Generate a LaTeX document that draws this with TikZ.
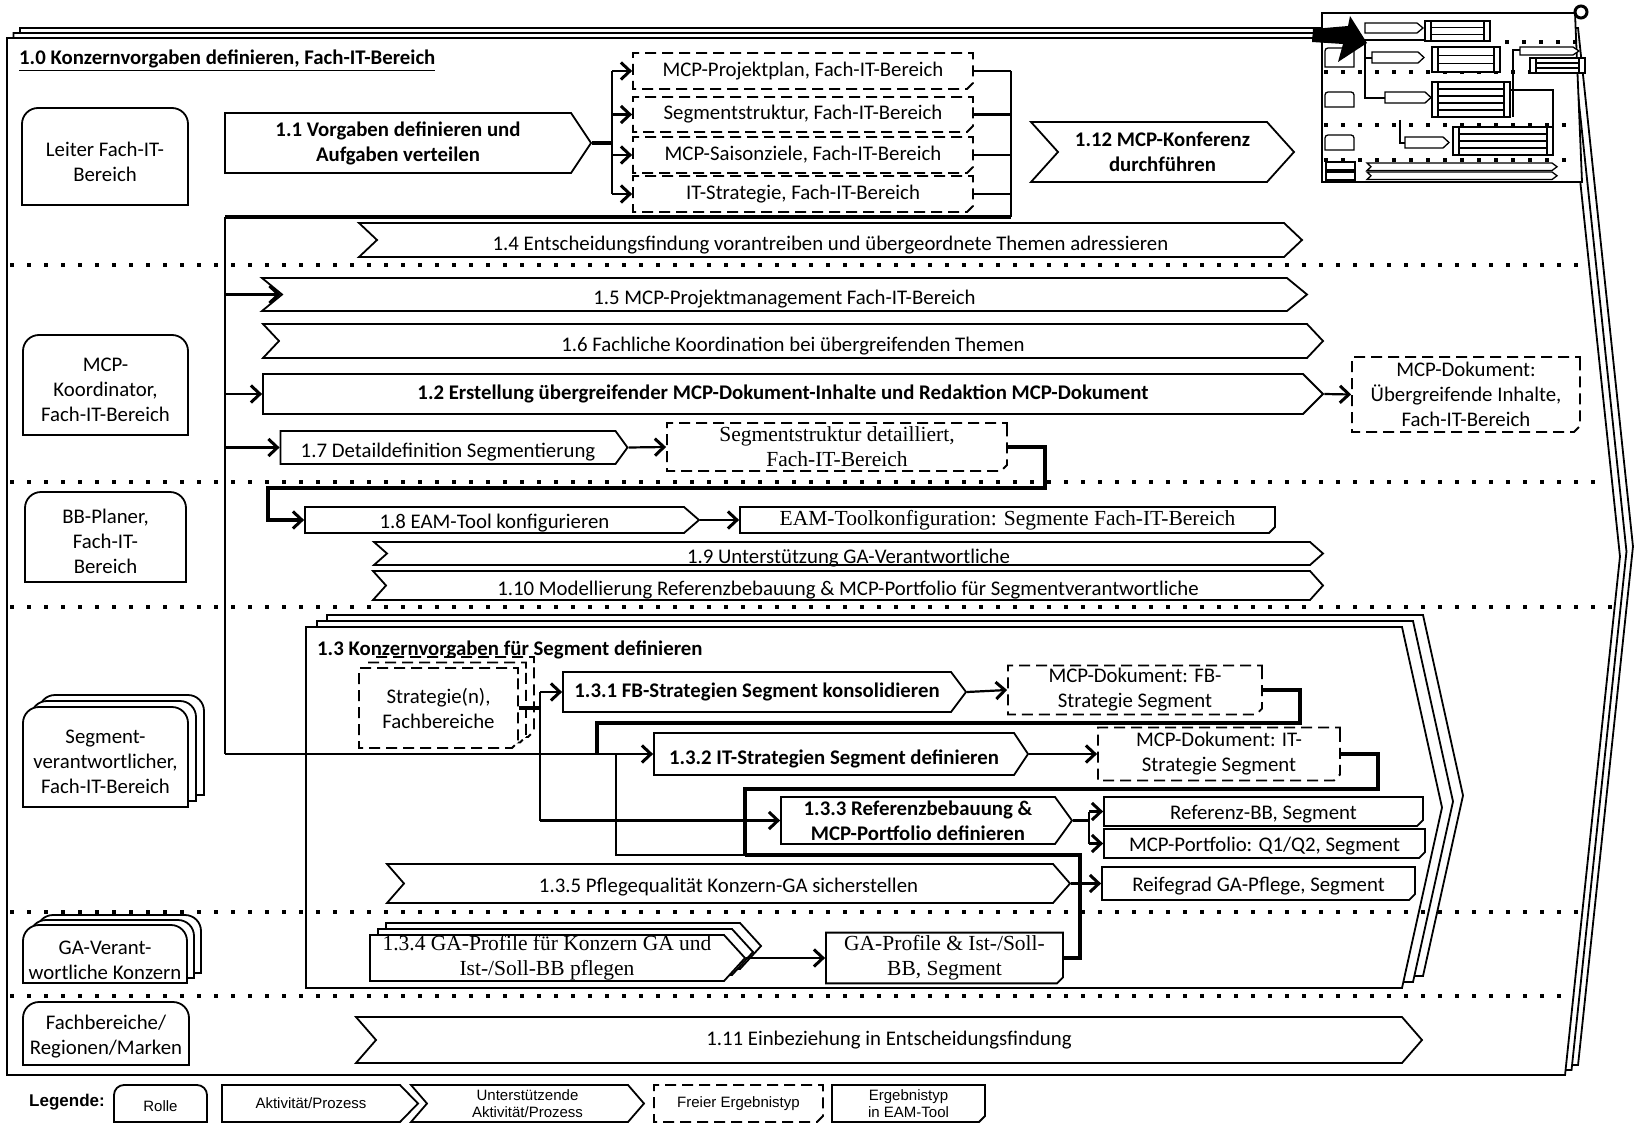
\documentclass[tikz,border=0pt]{standalone}
\usepackage{fontspec}
\setmainfont{Carlito}
\newfontfamily\serifschrift{Liberation Serif}
\newfontfamily\legschrift{Liberation Sans}
\usetikzlibrary{shapes.symbols, shapes.misc, shadows, arrows.meta}

\newcommand{\grund}{\fontsize{20.8}{25}\selectfont}
\newcommand{\serif}{\serifschrift\fontsize{21.5}{25}\selectfont}
\newcommand{\leg}{\legschrift\fontsize{15}{17.5}\selectfont}
% Rolle: oben abgerundet, unten eckig
\newcommand{\rollenform}[5][16pt]{\filldraw[rand] (#2,#5) [rounded corners=#1] -- (#2,#3) -- (#4,#3) [sharp corners] -- (#4,#5) -- cycle;}

\tikzset{
  aktiv/.style={signal, signal from=nowhere, signal to=east, draw, fill=white, line width=1.8pt, inner sep=0pt, align=center},
  stuetz/.style={aktiv, signal from=west},
  frei/.style={chamfered rectangle, chamfered rectangle corners=south east, chamfered rectangle xsep=3pt, chamfered rectangle ysep=3pt, draw, fill=white, line width=1.8pt, dash pattern=on 11pt off 6pt, inner sep=0pt, align=center},
  eam/.style={frei, solid},
  rolle/.style={inner sep=0pt, align=center},
  tiefer/.style={text height=#1, text depth=0pt},
  rand/.style={line width=1.8pt, fill=white},
  linie/.style={line width=2.2pt},
  dick/.style={line width=3.6pt},
  pfeil/.style={linie, -{Straight Barb[length=9pt,width=17pt,line width=3pt]}},
  bahn/.style={line width=4pt, dash pattern=on 4pt off 13pt},
}

\begin{document}
\begin{tikzpicture}[x=1pt, y=-1pt, font=\grund]
\useasboundingbox (0,0) rectangle (1644,1129);

% Rahmen 1.0
\node[aktiv, signal pointer angle=167.9, minimum width=1613pt, minimum height=1037pt,
      copy shadow={shadow xshift=13pt, shadow yshift=10pt, draw, fill=white},
      copy shadow={shadow xshift=6.5pt, shadow yshift=5pt, draw, fill=white}] (r10) at (786,556.5) {};
\node[anchor=base west, inner sep=0pt, font=\grund\bfseries] (t10) at (19,65) {\underline{1.0 Konzernvorgaben definieren, Fach-IT-Bereich}};

% Rahmen 1.3
\node[aktiv, signal pointer angle=155, minimum width=1136pt, minimum height=361pt,
      copy shadow={shadow xshift=21pt, shadow yshift=12pt, draw, fill=white},
      copy shadow={shadow xshift=11pt, shadow yshift=6pt, draw, fill=white}] (r13) at (854,807.5) {};
\node[anchor=base west, inner sep=0pt, font=\grund\bfseries] (t13) at (317,655) {1.3 Konzernvorgaben für Segment definieren};

% Bahnen
\foreach \y/\xe in {265/1585, 482/1607, 607/1614, 912/1583, 996/1574}
  \draw[bahn] (10,\y) -- (\xe,\y);

% Rollen
\rollenform{22}{108}{188}{205}
\node[rolle] (leiter) at (105,161.5) {Leiter Fach-IT-\\Bereich};
\rollenform{23}{335}{188}{435}
\node[rolle] (koord) at (105.5,390) {MCP-\\Koordinator,\\Fach-IT-Bereich};
\rollenform{25}{492}{186}{582}
\node[rolle] (bbpl) at (105.5,541) {BB-Planer,\\Fach-IT-\\Bereich};
\foreach \s in {2,1} {
  \begin{scope}[shift={(8*\s,-6*\s)}] \rollenform{23}{707}{188}{807} \end{scope}
  \begin{scope}[shift={(7*\s,-5*\s)}] \rollenform{23}{925}{187}{983} \end{scope}
}
\rollenform{23}{707}{188}{807}
\node[rolle] (segv) at (105.5,762) {Segment-\\verantwortlicher,\\Fach-IT-Bereich};
\rollenform{23}{925}{187}{983}
\node[rolle] (gav) at (105,960) {GA-Verant-\\wortliche Konzern};
\rollenform{23}{1002}{189}{1065}
\node[rolle] (fbreg) at (106,1037) {Fachbereiche/\\Regionen/Marken};

% Aktivitaeten
\node[aktiv, signal pointer angle=112.6, minimum width=366pt, minimum height=60pt, font=\grund\bfseries] (a11) at (398,143) {1.1 Vorgaben definieren und\\Aufgaben verteilen};
\node[stuetz, signal pointer angle=96, minimum width=263pt, minimum height=60pt, font=\grund\bfseries] (a112) at (1162.5,152) {1.12 MCP-Konferenz\\durchführen};
\node[stuetz, tiefer=20pt, signal pointer angle=86.7, minimum width=943pt, minimum height=34pt] (a14) at (830.5,240) {1.4 Entscheidungsfindung vorantreiben und übergeordnete Themen adressieren};
\node[stuetz, tiefer=20pt, signal pointer angle=78.9, minimum width=1045pt, minimum height=33pt] (a15) at (784.5,294.5) {1.5 MCP-Projektmanagement Fach-IT-Bereich};
\node[stuetz, tiefer=20pt, signal pointer angle=93.5, minimum width=1060pt, minimum height=34pt] (a16) at (793,341) {1.6 Fachliche Koordination bei übergreifenden Themen};
\node[aktiv, signal pointer angle=90, minimum width=1060pt, minimum height=40pt, font=\grund\bfseries] (a12) at (783,394) {1.2 Erstellung übergreifender MCP-Dokument-Inhalte und Redaktion MCP-Dokument};
\node[aktiv, tiefer=20pt, signal pointer angle=108, minimum width=347pt, minimum height=33pt] (a17) at (448,447.5) {1.7 Detaildefinition Segmentierung};
\node[aktiv, tiefer=17pt, signal pointer angle=81.8, minimum width=394pt, minimum height=26pt] (a18) at (494.5,520) {1.8 EAM-Tool konfigurieren};
\node[stuetz, tiefer=19pt, signal pointer angle=83, minimum width=949pt, minimum height=23pt] (a19) at (848.5,553.5) {1.9 Unterstützung GA-Verantwortliche};
\node[stuetz, tiefer=20pt, signal pointer angle=96.2, minimum width=950pt, minimum height=29pt] (a110) at (848,585.5) {1.10 Modellierung Referenzbebauung \& MCP-Portfolio für Segmentverantwortliche};
\node[stuetz, signal pointer angle=97.9, minimum width=1066pt, minimum height=46pt] (a111) at (889,1040) {1.11 Einbeziehung in Entscheidungsfindung};

% Aktivitaeten 1.3
\node[aktiv, signal pointer angle=106.3, minimum width=403pt, minimum height=40pt, font=\grund\bfseries] (a131) at (757,692) {1.3.1 FB-Strategien Segment konsolidieren};
\node[aktiv, tiefer=20pt, signal pointer angle=112.6, minimum width=374pt, minimum height=42pt, font=\grund\bfseries] (a132) at (834,754) {1.3.2 IT-Strategien Segment definieren};
\node[aktiv, signal pointer angle=108.2, minimum width=291pt, minimum height=47pt, font=\grund\bfseries] (a133) at (918,820.5) {1.3.3 Referenzbebauung \&\\MCP-Portfolio definieren};
\node[stuetz, tiefer=17pt, signal pointer angle=97.8, minimum width=683pt, minimum height=39pt] (a135) at (728.5,883.5) {1.3.5 Pflegequalität Konzern-GA sicherstellen};
\node[aktiv, signal pointer angle=95.2, minimum width=375pt, minimum height=46pt, font=\serif,
      copy shadow={shadow xshift=16pt, shadow yshift=12pt, draw, fill=white},
      copy shadow={shadow xshift=8pt, shadow yshift=6pt, draw, fill=white}] (a134) at (547,958) {1.3.4 GA-Profile für Konzern GA und\\Ist-/Soll-BB pflegen};

% Ergebnisse
\node[frei, minimum width=340pt, minimum height=36pt] (e1) at (803,71) {MCP-Projektplan, Fach-IT-Bereich};
\node[frei, minimum width=340pt, minimum height=35pt] (e2) at (803,114.5) {Segmentstruktur, Fach-IT-Bereich};
\node[frei, minimum width=340pt, minimum height=36pt] (e3) at (803,155) {MCP-Saisonziele, Fach-IT-Bereich};
\node[frei, minimum width=340pt, minimum height=36pt] (e4) at (803,194) {IT-Strategie, Fach-IT-Bereich};
\node[frei, minimum width=228pt, minimum height=75pt] (edok) at (1466,394.5) {MCP-Dokument:\\Übergreifende Inhalte,\\Fach-IT-Bereich};
\node[frei, minimum width=340pt, minimum height=48pt, font=\serif] (eseg) at (837,447) {Segmentstruktur detailliert,\\Fach-IT-Bereich};
\node[eam, minimum width=535pt, minimum height=26pt, font=\serif] (ekonf) at (1007.5,520) {EAM-Toolkonfiguration: Segmente Fach-IT-Bereich};
\node[frei, minimum width=159pt, minimum height=80pt,
      copy shadow={shadow xshift=16pt, shadow yshift=11pt, draw, fill=white},
      copy shadow={shadow xshift=8pt, shadow yshift=5.5pt, draw, fill=white}] (strat) at (438.5,708) {Strategie(n),\\Fachbereiche};
\node[frei, minimum width=254pt, minimum height=46pt] (efb) at (1135,690) {MCP-Dokument: FB-\\Strategie Segment};
\node[frei, minimum width=242pt, minimum height=53pt] (eit) at (1219,754) {MCP-Dokument: IT-\\Strategie Segment};
\node[eam, tiefer=15pt, minimum width=319pt, minimum height=29pt] (eref) at (1263.5,811.5) {Referenz-BB, Segment};
\node[eam, tiefer=15pt, minimum width=321pt, minimum height=29pt] (eport) at (1264.5,843.5) {MCP-Portfolio: Q1/Q2, Segment};
\node[eam, tiefer=15pt, minimum width=313pt, minimum height=33pt] (ereif) at (1258.5,883.5) {Reifegrad GA-Pflege, Segment};
\node[eam, minimum width=237pt, minimum height=50pt, font=\serif] (egap) at (944.5,958) {GA-Profile \& Ist-/Soll-\\BB, Segment};

% Verbindungen oben
\coordinate (bus1) at (612,143);
\coordinate (bus2) at (1011,217);
\coordinate (stamm) at (225,754);
\draw[dick] (a11.east) -- (bus1);
\draw[linie] (bus1 |- e1.west) -- (bus1 |- e4.west);
\foreach \e in {e1,e2,e3,e4} {
  \draw[pfeil] (bus1 |- \e.west) -- (\e.west);
  \draw[linie] (\e.east) -- (bus2 |- \e.east);
}
\draw[linie] (bus2 |- e1.east) -- (bus2);
\draw[dick] (bus2) -- (bus2 -| stamm);
\draw[linie] (bus2 -| stamm) -- (stamm);
\foreach \z in {a15,a12,a17}
  \draw[pfeil] (stamm |- \z.west) -- (\z.west);
\draw[pfeil] (stamm) -- (a132.west);
\draw[pfeil] (a12.east) -- (edok.west);
\draw[pfeil] (a17.east) -- (eseg.west);
\coordinate (knick17) at (1045,488);
\coordinate (knick18) at (268,488);
\draw[pfeil, dick] (eseg.east) -| (knick17) -- (knick18) |- (a18.west);
\draw[pfeil] (a18.east) -- (ekonf.west);

% Verbindungen 1.3
\coordinate (vert) at (540,708);
\draw[dick] (strat.east) -- (vert);
\draw[linie] (vert |- a131.west) -- (vert |- a133.west);
\draw[pfeil] (vert |- a131.west) -- (a131.west);
\draw[pfeil] (vert |- a133.west) -- (a133.west);
\draw[pfeil] (a131.east) -- (efb.west);
\coordinate (rueck1) at (597,754);
\draw[dick] (efb.east) -| (1300,723) -| (rueck1);
\draw[pfeil] (a132.east) -- (eit.west);
\coordinate (sammela) at (745,855);
\coordinate (abzw) at (616,754);
\draw[dick] (eit.east) -| (1378,789) -| (sammela);
\draw[linie] (abzw) |- (sammela);
\draw[dick] (sammela) -| (1080,958) -- (egap.east);
\coordinate (vert133) at (1089,820.5);
\draw[linie] (a133.east) -- (vert133);
\draw[linie] (vert133 |- eref.west) -- (vert133 |- eport.west);
\draw[pfeil] (vert133 |- eref.west) -- (eref.west);
\draw[pfeil] (vert133 |- eport.west) -- (eport.west);
\draw[pfeil] (a135.east) -- (ereif.west);
\draw[pfeil] (a134.east) -- (egap.west);

% Miniatur oben rechts
\begin{scope}[line width=1.3pt]
  \filldraw[fill=white, line width=1.8pt] (1322,13) -- (1575,13) -- (1582,182) -- (1322,182) -- cycle;
  \foreach \y/\xa in {42/1505, 72/1324, 125/1324, 160/1324}
    \draw[bahn, line width=3.5pt] (\xa,\y) -- (1576,\y);
  \foreach \ya/\yb in {48/67, 92/107, 135/150}
    \filldraw[fill=white] (1325,\yb) [rounded corners=3pt] -- (1325,\ya) -- (1354,\ya) [sharp corners] -- (1354,\yb) -- cycle;
  \filldraw[fill=white] (1326,162) rectangle (1355,170);
  \filldraw[fill=white] (1326,172) rectangle (1355,180);
  \draw[line width=2.2pt] (1490,40) -- (1365,40) -- (1365,98) -- (1385,98);
  \draw[line width=2.2pt] (1365,58) -- (1372,58);
  \draw[line width=2.2pt] (1510,90) -- (1553,90) -- (1553,148);
  \draw[line width=2.2pt] (1513,117) -- (1513,50) -- (1520,50);
  \draw[line width=2.2pt] (1400,120) -- (1400,143) -- (1405,143);
  \foreach \xa/\xb/\ya/\yb in {1365/1417/23/33, 1372/1418/52/63, 1385/1425/92/103, 1405/1443/137/148, 1520/1573/47/55}
    \filldraw[fill=white] (\xa,\ya) -- (\xb,\ya) -- ({\xb+6},{(\ya+\yb)/2}) -- (\xb,\yb) -- (\xa,\yb) -- cycle;
  \foreach \xa/\xb/\ya/\yb/\n in {1425/1490/21/41/2, 1432/1500/47/72/2, 1432/1510/82/117/4, 1453/1553/127/155/3, 1530/1585/58/73/2} {
    \filldraw[fill=white] (\xa,\ya) rectangle (\xb,\yb);
    \foreach \i in {1,...,\n}
      \draw ({\xa+6},{\ya+\i*(\yb-\ya)/(\n+1)}) -- ({\xb-6},{\ya+\i*(\yb-\ya)/(\n+1)});
    \draw ({\xa+6},\ya) -- ({\xa+6},\yb) ({\xb-6},\ya) -- ({\xb-6},\yb);
  }
  \foreach \ya/\yb in {163/170.5, 172/179.5}
    \filldraw[fill=white] (1367,\ya) -- (1552,\ya) -- (1557,{(\ya+\yb)/2}) -- (1552,\yb) -- (1367,\yb) -- (1371,{(\ya+\yb)/2}) -- cycle;
  \fill (1313,29) -- (1348,26) -- (1350,16) -- (1367,43) -- (1338,62) -- (1343,44) -- (1312,42) -- cycle;
\end{scope}
\draw[line width=3pt, fill=white] (1581,12) circle[radius=6pt];

% Legende
\node[anchor=west, inner sep=0pt, font=\legschrift\bfseries\fontsize{17}{20}\selectfont] (legende) at (29,1102) {Legende:};
\rollenform[10pt]{114}{1085}{207}{1122}
\node[rolle, font=\leg] (lrolle) at (160.5,1106) {Rolle};
\node[aktiv, signal pointer angle=91.6, minimum width=196pt, minimum height=37pt, font=\leg] (lakt) at (311,1103.5) {Aktivität/Prozess};
\node[stuetz, signal pointer angle=98.3, minimum width=233pt, minimum height=37pt, font=\leg] (lunt) at (527.5,1103.5) {Unterstützende\\Aktivität/Prozess};
\node[frei, minimum width=169pt, minimum height=37pt, font=\leg] (lfrei) at (738.5,1103.5) {Freier Ergebnistyp};
\node[eam, minimum width=153pt, minimum height=37pt, font=\leg] (leam) at (908.5,1103.5) {Ergebnistyp\\in EAM-Tool};
\end{tikzpicture}
\end{document}
